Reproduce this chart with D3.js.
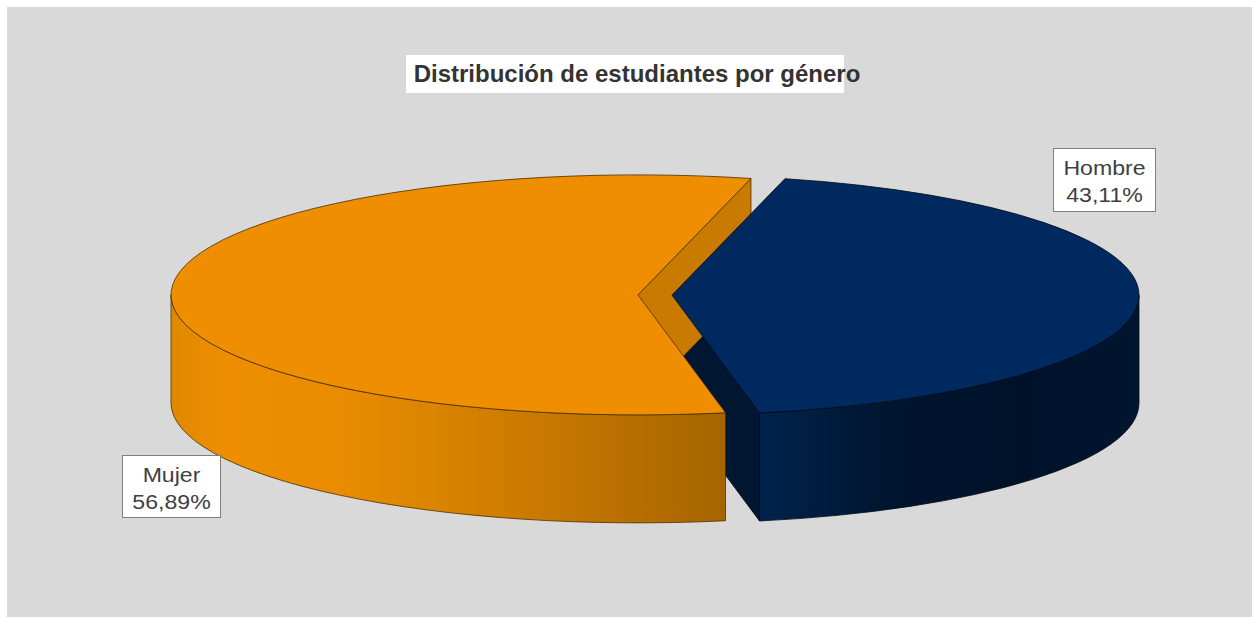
<!DOCTYPE html>
<html>
<head>
<meta charset="utf-8">
<script src="https://cdn.jsdelivr.net/npm/d3@7"></script>
<style>
  body { margin: 0; background: #fff; }
  text { font-family: "Liberation Sans", Arial, sans-serif; }
</style>
</head>
<body>
<script>
// chart data
var categories = ["Hombre", "Mujer"];
var values = [43.11, 56.89];
var pctLabels = ["43,11%", "56,89%"];
var title = "Distribución de estudiantes por género";

var width = 1252, height = 617;

// 3d pie geometry
var cx = 655, cy = 295,
	rx = 467, ry = 120,
	depth = 108,
	explode = 17,
	startDeg = 14; // clockwise from 12 o'clock

var svg = d3.select("body").append("svg")
	.attr("width", width)
	.attr("height", height);

var defs = svg.append("defs");

//gradients for the outer walls
var gradOrange = defs.append("linearGradient")
	.attr("id", "sideMujer")
	.attr("gradientUnits", "userSpaceOnUse")
	.attr("x1", 170).attr("x2", 725).attr("y1", 0).attr("y2", 0);
[[0, "#e08800"], [0.1, "#ee8e00"], [0.3, "#ea8c00"], [0.5, "#d88300"], [0.75, "#c07400"], [1, "#a66400"]]
	.forEach(function(s){
		gradOrange.append("stop").attr("offset", s[0]).attr("stop-color", s[1]);
	});

var gradBlue = defs.append("linearGradient")
	.attr("id", "sideHombre")
	.attr("gradientUnits", "userSpaceOnUse")
	.attr("x1", 760).attr("x2", 1137).attr("y1", 0).attr("y2", 0);
[[0, "#00234c"], [0.35, "#00152f"], [0.7, "#00122a"], [1, "#00152f"]]
	.forEach(function(s){
		gradBlue.append("stop").attr("offset", s[0]).attr("stop-color", s[1]);
	});

var topColor = d3.scaleOrdinal().domain(categories).range(["#002a5f", "#ee8e00"]);
var cutColor = d3.scaleOrdinal().domain(categories).range(["#001631", "#c97a00"]);
var sideFill = d3.scaleOrdinal().domain(categories).range(["url(#sideHombre)", "url(#sideMujer)"]);
var strokeColor = d3.scaleOrdinal().domain(categories).range(["#000814", "#4a3000"]);

//background
svg.append("rect")
	.attr("x", 7).attr("y", 7)
	.attr("width", width - 7).attr("height", height - 7)
	.attr("fill", "#d9d9d9");

var pie = d3.pie()
	.sort(null)
	.startAngle(startDeg * Math.PI / 180)
	.endAngle(startDeg * Math.PI / 180 + 2 * Math.PI);

var arcs = pie(values).map(function(d, i){
	var a0 = d.startAngle - Math.PI / 2,
		a1 = d.endAngle - Math.PI / 2,
		mid = (a0 + a1) / 2;
	return {
		name: categories[i],
		a0: a0, a1: a1,
		x: cx + explode * Math.cos(mid),
		y: cy + explode * Math.sin(mid) * ry / rx
	};
});

function pt(s, a, dy){
	return [s.x + rx * Math.cos(a), s.y + ry * Math.sin(a) + (dy || 0)];
}

function topPath(s){
	var p0 = pt(s, s.a0), p1 = pt(s, s.a1);
	var large = (s.a1 - s.a0) > Math.PI ? 1 : 0;
	return "M" + s.x + "," + s.y + "L" + p0 + "A" + rx + "," + ry + " 0 " + large + " 1 " + p1 + "Z";
}

//visible part of the outer wall: between 0 and PI (front half)
function sidePath(s){
	var segs = [];
	for (var k = -1; k <= 1; k++){
		var lo = Math.max(s.a0, k * 2 * Math.PI),
			hi = Math.min(s.a1, k * 2 * Math.PI + Math.PI);
		if (hi > lo) segs.push([lo, hi]);
	}
	return segs.map(function(g){
		var p0 = pt(s, g[0]), p1 = pt(s, g[1]),
			q1 = pt(s, g[1], depth), q0 = pt(s, g[0], depth);
		return "M" + p0 + "A" + rx + "," + ry + " 0 0 1 " + p1 +
			"L" + q1 + "A" + rx + "," + ry + " 0 0 0 " + q0 + "Z";
	}).join("");
}

function cutPath(s, a){
	var p = pt(s, a);
	return "M" + s.x + "," + s.y + "L" + p + "L" + [p[0], p[1] + depth] +
		"L" + [s.x, s.y + depth] + "Z";
}

var pieG = svg.append("g");

//cut faces first (only those facing the viewer)
arcs.forEach(function(s){
	if (Math.cos(s.a0) < 0) {
		pieG.append("path").attr("d", cutPath(s, s.a0))
			.attr("fill", cutColor(s.name))
			.attr("stroke", strokeColor(s.name)).attr("stroke-width", 0.8);
	}
	if (Math.cos(s.a1) > 0) {
		pieG.append("path").attr("d", cutPath(s, s.a1))
			.attr("fill", cutColor(s.name))
			.attr("stroke", strokeColor(s.name)).attr("stroke-width", 0.8);
	}
});

//outer walls
arcs.forEach(function(s){
	pieG.append("path").attr("d", sidePath(s))
		.attr("fill", sideFill(s.name))
		.attr("stroke", strokeColor(s.name)).attr("stroke-width", 0.8);
});

//top faces
arcs.forEach(function(s){
	pieG.append("path").attr("d", topPath(s))
		.attr("fill", topColor(s.name))
		.attr("stroke", strokeColor(s.name)).attr("stroke-width", 0.8);
});

//title
svg.append("rect")
	.attr("x", 406).attr("y", 55)
	.attr("width", 438).attr("height", 38)
	.attr("fill", "#fff");
svg.append("text")
	.attr("x", 637).attr("y", 82)
	.attr("text-anchor", "middle")
	.attr("font-size", 24)
	.attr("font-weight", "bold")
	.attr("fill", "#333")
	.text(title);

//data labels
var labelBoxes = [
	{x: 1053, y: 148, w: 102, h: 63},
	{x: 122, y: 455, w: 98, h: 62}
];
labelBoxes.forEach(function(b, i){
	var g = svg.append("g");
	g.append("rect")
		.attr("x", b.x + 0.5).attr("y", b.y + 0.5)
		.attr("width", b.w).attr("height", b.h)
		.attr("fill", "#fff")
		.attr("stroke", "#7f7f7f");
	var t = g.append("g")
		.attr("transform", "translate(" + (b.x + b.w / 2 + 0.5) + "," + b.y + ") scale(1.1,1)");
	t.append("text")
		.attr("x", 0).attr("y", 27)
		.attr("text-anchor", "middle")
		.attr("font-size", 21)
		.attr("fill", "#404040")
		.text(categories[i]);
	t.append("text")
		.attr("x", 0).attr("y", 54)
		.attr("text-anchor", "middle")
		.attr("font-size", 21)
		.attr("fill", "#404040")
		.text(pctLabels[i]);
});
</script>
</body>
</html>
